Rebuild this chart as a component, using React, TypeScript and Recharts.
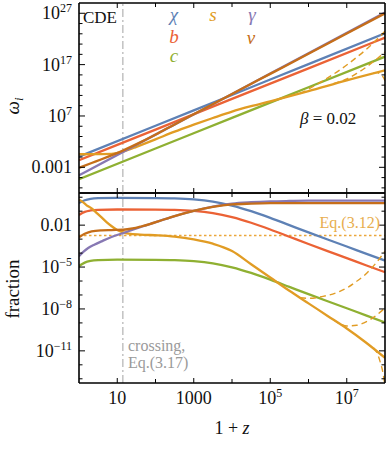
import React from 'react';
import { LineChart, Line, XAxis, YAxis, ReferenceLine } from 'recharts';

const SERIF = '"Liberation Serif", "DejaVu Serif", "Times New Roman", serif';

// Mathematica default palette
const COL_CHI = '#5E81B5';
const COL_S = '#E19C24';
const COL_C = '#8FB032';
const COL_B = '#EB6235';
const COL_G = '#8778B3';
const COL_NU = '#C56E1A';

// ---------- axes ----------
const X_DOMAIN: [number, number] = [1, 1e8];
const X_TICK_EXP = [1, 2, 3, 4, 5, 6, 7];
const X_LABEL_EXP = [1, 3, 5, 7];
const TOP_Y_DOMAIN: [number, number] = [1e-8, 1e29];
const TOP_Y_TICK_EXP = [-7, -5, -3, -1, 1, 3, 5, 7, 9, 11, 13, 15, 17, 19, 21, 23, 25, 27];
const TOP_Y_LABEL_EXP = [-3, 7, 17, 27];
const BOT_Y_DOMAIN: [number, number] = [5e-14, 2];
const BOT_Y_TICK_EXP = [0, -1, -2, -3, -4, -5, -6, -7, -8, -9, -10, -11, -12, -13];
const BOT_Y_LABEL_EXP = [-2, -5, -8, -11];
const CROSSING_1PZ = 14;
const EQ312_FRACTION = 1.8e-3;

// ---------- top panel: log10(omega) vs log10(1+z) ----------
const TOP_LX_STRAIGHT = [0, 2, 4, 6, 8];
const TOP_CHI = [-0.92, 5.09, 11.09, 17.1, 23.1];
const TOP_B = [-1.62, 4.35, 10.32, 16.28, 22.25];
const TOP_C = [-5.3, 0.66, 6.63, 12.59, 18.55];
const TOP_GAMMA = [-4.55, 3.37, 11.3, 19.22, 27.15];
const TOP_LX_S = [0, 0.5, 0.85, 1.07, 1.3, 1.5, 2, 2.5, 3, 3.5, 4, 4.5, 5, 6, 7, 8];
const TOP_S = [-0.45, -0.42, -0.37, -0.1, 0.42, 0.99, 2.45, 3.95, 5.3, 6.6, 7.85, 8.9, 9.85, 11.85, 13.95, 15.9];
const TOP_LX_NU = [0, 0.33, 0.59, 1.16, 1.64, 2.07, 2.5, 3.16, 4, 5, 6, 7, 8];
const TOP_NU = [-3.1, -2.15, -1.42, 0.31, 2.0, 3.64, 5.35, 7.98, 11.3, 15.2, 19.1, 23.05, 26.98];
const LX_D1 = [5.78, 6.0, 6.38, 6.82, 7.05, 7.26, 7.5, 7.69, 7.85, 8.0];
const TOP_D1 = [11.36, 12.22, 13.87, 15.97, 17.2, 18.43, 19.9, 21.21, 22.37, 23.5];
const LX_D2 = [6.65, 6.85, 7.0, 7.26, 7.45, 7.61, 7.8, 8.0];
const TOP_D2 = [13.28, 13.75, 14.2, 15.28, 16.2, 17.07, 18.2, 19.44];
const LX_D3 = [7.7, 7.8, 7.87, 7.93, 7.97, 8.0];
const TOP_D3 = [15.43, 15.45, 15.18, 14.8, 14.35, 13.87];

// ---------- bottom panel: log10(fraction) vs log10(1+z) ----------
const BOT_LX_M = [0, 0.15, 0.3, 0.5, 1, 2, 2.5, 3, 3.5, 4, 4.5, 5, 5.5, 6, 6.5, 7, 7.5, 8];
const BOT_CHI = [-0.41, -0.22, -0.12, -0.07, -0.05, -0.06, -0.08, -0.15, -0.31, -0.6, -1.0, -1.48, -2.0, -2.52, -3.03, -3.53, -4.04, -4.54];
const BOT_B = [-1.27, -1.05, -0.95, -0.9, -0.88, -0.89, -0.91, -0.98, -1.14, -1.43, -1.83, -2.31, -2.83, -3.35, -3.86, -4.36, -4.87, -5.37];
const BOT_C = [-4.92, -4.68, -4.56, -4.5, -4.47, -4.48, -4.5, -4.57, -4.73, -5.02, -5.42, -5.9, -6.42, -6.94, -7.45, -7.95, -8.46, -8.96];
const BOT_LX_G = [0, 0.12, 0.24, 0.4, 0.59, 0.85, 1.16, 1.6, 2.07, 2.5, 3, 3.5, 4, 4.5, 5, 5.5, 6, 7, 8];
const BOT_GAMMA = [-4.23, -3.9, -3.64, -3.4, -3.16, -2.85, -2.56, -2.15, -1.73, -1.35, -0.98, -0.68, -0.46, -0.36, -0.3, -0.27, -0.25, -0.25, -0.25];
const BOT_LX_NU = [0, 0.15, 0.33, 0.59, 0.85, 1.16, 1.4, 1.64, 1.85, 2.07, 2.5, 3, 3.5, 4, 4.5, 5, 6, 7, 8];
const BOT_NU = [-2.87, -2.62, -2.44, -2.37, -2.35, -2.33, -2.24, -2.08, -1.92, -1.73, -1.35, -0.98, -0.7, -0.52, -0.46, -0.43, -0.42, -0.42, -0.42];
const BOT_LX_S = [0, 0.1, 0.2, 0.33, 0.45, 0.59, 0.72, 0.855, 1.0, 1.15, 1.3, 1.6, 2.07, 2.5, 3, 3.5, 4, 4.5, 5, 5.5, 6, 6.5, 7, 7.5, 8];
const BOT_S = [-0.18, -0.35, -0.58, -0.8, -1.1, -1.45, -1.78, -2.08, -2.35, -2.52, -2.61, -2.68, -2.73, -2.82, -3.02, -3.33, -3.85, -4.8, -5.75, -6.7, -7.6, -8.5, -9.4, -10.4, -11.5];
const BOT_D1 = [-7.2, -7.24, -7.1, -6.74, -6.42, -6.02, -5.5, -4.95, -4.42, -3.87];
const BOT_D2 = [-8.77, -9.1, -9.22, -9.17, -9.0, -8.77, -8.4, -7.93];
const BOT_D3 = [-10.8, -11.2, -11.75, -12.35, -12.95, -13.5];

const pts = (lx: number[], ly: number[]) => lx.map((a, i) => ({ x: Math.pow(10, a), y: Math.pow(10, ly[i]) }));

const expToVals = (es: number[]) => es.map((e) => Math.pow(10, e));
const nearExp = (v: number) => Math.round(Math.log10(v));

const supText = (e: number) => (e < 0 ? '\u2212' + String(-e) : String(e));

function labelNode(e: number) {
  if (e === -3) return <>0.001</>;
  if (e === -2) return <>0.01</>;
  if (e === 1) return <>10</>;
  if (e === 3) return <>1000</>;
  return (
    <>
      10<tspan dy={-7} fontSize={12}>{supText(e)}</tspan>
    </>
  );
}

const makeYTick = (side: 'left' | 'right', labelled: number[]) => (props: any) => {
  const { x, y, payload } = props;
  const e = nearExp(payload.value);
  const isLab = labelled.includes(e);
  const len = isLab ? 6 : 3.5;
  const dir = side === 'left' ? 1 : -1;
  return (
    <g>
      <line x1={x} y1={y} x2={x + dir * len} y2={y} stroke="#000" strokeWidth={1} />
      {side === 'left' && isLab ? (
        <text x={x - 7} y={y + 6} textAnchor="end" fontSize={18} fontFamily={SERIF} fill="#111">
          {labelNode(e)}
        </text>
      ) : null}
    </g>
  );
};

const makeXTick = (side: 'top' | 'bottom', withLabels: boolean) => (props: any) => {
  const { x, y, payload } = props;
  const e = nearExp(payload.value);
  const isLab = X_LABEL_EXP.includes(e);
  const len = isLab ? 5 : 4;
  const dir = side === 'bottom' ? -1 : 1;
  return (
    <g>
      <line x1={x} y1={y} x2={x} y2={y + dir * len} stroke="#000" strokeWidth={1} />
      {withLabels && isLab ? (
        <text x={x} y={y + 21} textAnchor="middle" fontSize={18} fontFamily={SERIF} fill="#111">
          {labelNode(e)}
        </text>
      ) : null}
    </g>
  );
};

const FRAME = { stroke: '#000', strokeWidth: 1.6 };
const SOLID = 2.3;
const DASH = 1.4;

function seriesLines(data: {
  chi: any[]; b: any[]; c: any[]; s: any[]; g: any[]; nu: any[]; d1: any[]; d2: any[]; d3: any[];
}) {
  const common = { type: 'monotone' as const, dataKey: 'y', dot: false, activeDot: false, isAnimationActive: false };
  return [
    <Line key="chi" data={data.chi} stroke={COL_CHI} strokeWidth={SOLID} {...common} />,
    <Line key="b" data={data.b} stroke={COL_B} strokeWidth={SOLID} {...common} />,
    <Line key="c" data={data.c} stroke={COL_C} strokeWidth={SOLID} {...common} />,
    <Line key="d1" data={data.d1} stroke={COL_S} strokeWidth={DASH} strokeDasharray="6 4" {...common} />,
    <Line key="d2" data={data.d2} stroke={COL_S} strokeWidth={DASH} strokeDasharray="6 4" {...common} />,
    <Line key="d3" data={data.d3} stroke={COL_S} strokeWidth={DASH} strokeDasharray="6 4" {...common} />,
    <Line key="s" data={data.s} stroke={COL_S} strokeWidth={SOLID} {...common} />,
    <Line key="g" data={data.g} stroke={COL_G} strokeWidth={SOLID} {...common} />,
    <Line key="nu" data={data.nu} stroke={COL_NU} strokeWidth={SOLID} {...common} />,
  ];
}

const topData = {
  chi: pts(TOP_LX_STRAIGHT, TOP_CHI),
  b: pts(TOP_LX_STRAIGHT, TOP_B),
  c: pts(TOP_LX_STRAIGHT, TOP_C),
  g: pts(TOP_LX_STRAIGHT, TOP_GAMMA),
  s: pts(TOP_LX_S, TOP_S),
  nu: pts(TOP_LX_NU, TOP_NU),
  d1: pts(LX_D1, TOP_D1),
  d2: pts(LX_D2, TOP_D2),
  d3: pts(LX_D3, TOP_D3),
};

const botData = {
  chi: pts(BOT_LX_M, BOT_CHI),
  b: pts(BOT_LX_M, BOT_B),
  c: pts(BOT_LX_M, BOT_C),
  g: pts(BOT_LX_G, BOT_GAMMA),
  s: pts(BOT_LX_S, BOT_S),
  nu: pts(BOT_LX_NU, BOT_NU),
  d1: pts(LX_D1, BOT_D1),
  d2: pts(LX_D2, BOT_D2),
  d3: pts(LX_D3, BOT_D3),
};

const xTicks = expToVals(X_TICK_EXP);

function axes(yDomain: [number, number], yTicks: number[], yLabels: number[], topH: number, botH: number, xLabels: boolean) {
  return [
    <XAxis key="xb" dataKey="x" type="number" scale="log" domain={X_DOMAIN} allowDataOverflow ticks={xTicks} interval={0}
      orientation="bottom" height={botH} tickLine={false} tickSize={0} tickMargin={0} axisLine={FRAME}
      tick={makeXTick('bottom', xLabels)} />,
    <XAxis key="xt" xAxisId="t" dataKey="x" type="number" scale="log" domain={X_DOMAIN} allowDataOverflow ticks={xTicks} interval={0}
      orientation="top" height={topH} tickLine={false} tickSize={0} tickMargin={0} axisLine={FRAME}
      tick={makeXTick('top', false)} />,
    <YAxis key="yl" type="number" scale="log" domain={yDomain} allowDataOverflow ticks={yTicks} interval={0}
      orientation="left" width={79} tickLine={false} tickSize={0} tickMargin={0} axisLine={FRAME}
      tick={makeYTick('left', yLabels)} />,
    <YAxis key="yr" yAxisId="r" type="number" scale="log" domain={yDomain} allowDataOverflow ticks={yTicks} interval={0}
      orientation="right" width={4} tickLine={false} tickSize={0} tickMargin={0} axisLine={FRAME}
      tick={makeYTick('right', yLabels)} />,
  ];
}

export default function App() {
  return (
    <div style={{ position: 'absolute', left: 0, top: 0, width: 389, height: 450, background: '#fff' }}>
      <div style={{ position: 'absolute', left: 0, top: 0 }}>
        <LineChart width={389} height={450} margin={{ top: 0, right: 0, bottom: 0, left: 0 }}>
          {axes(BOT_Y_DOMAIN, expToVals(BOT_Y_TICK_EXP), BOT_Y_LABEL_EXP, 193, 67, true)}
          <ReferenceLine y={EQ312_FRACTION} stroke="#EBA63A" strokeOpacity={1} strokeWidth={1.4} strokeDasharray="2.5 2.5" />
          <ReferenceLine x={CROSSING_1PZ} stroke="#b8b8b8" strokeWidth={1.3} strokeDasharray="8 3 2 3" />
          {seriesLines(botData)}
        </LineChart>
      </div>
      <div style={{ position: 'absolute', left: 0, top: 0 }}>
        <LineChart width={389} height={196} margin={{ top: 0, right: 0, bottom: 0, left: 0 }}>
          {axes(TOP_Y_DOMAIN, expToVals(TOP_Y_TICK_EXP), TOP_Y_LABEL_EXP, 3, 3, false)}
          <ReferenceLine x={CROSSING_1PZ} stroke="#b8b8b8" strokeWidth={1.3} strokeDasharray="8 3 2 3" />
          {seriesLines(topData)}
        </LineChart>
      </div>
      <svg width={389} height={450} style={{ position: 'absolute', left: 0, top: 0, pointerEvents: 'none' }} fontFamily={SERIF}>
        <text x={83} y={23} fontSize={17} fill="#111">CDE</text>
        <g fontStyle="italic" fontSize={19}>
          <text x={174} y={21} textAnchor="middle" fill={COL_CHI}>χ</text>
          <text x={174} y={43} textAnchor="middle" fill={COL_B}>b</text>
          <text x={174} y={62} textAnchor="middle" fill={COL_C}>c</text>
          <text x={213} y={21} textAnchor="middle" fill={COL_S}>s</text>
          <text x={252} y={21} textAnchor="middle" fill={COL_G}>γ</text>
          <text x={251} y={44} textAnchor="middle" fill={COL_NU}>ν</text>
        </g>
        <text x={300} y={124} fontSize={17} fill="#111">
          <tspan fontStyle="italic">β</tspan> = 0.02
        </text>
        <text x={380} y={228} textAnchor="end" fontSize={16} fill="#E8AE4E">Eq.(3.12)</text>
        <text x={128} y={351} fontSize={16} fill="#9a9a9a">crossing,</text>
        <text x={128} y={368} fontSize={16} fill="#9a9a9a">Eq.(3.17)</text>
        <text transform="translate(19,289) rotate(-90)" textAnchor="middle" fontSize={19} fill="#111">fraction</text>
        <text transform="translate(19,106) rotate(-90)" textAnchor="middle" fontSize={19} fill="#111">
          <tspan fontStyle="italic">ω</tspan>
          <tspan fontStyle="italic" fontSize={13} dy={4}>i</tspan>
        </text>
        <text x={232} y={434} textAnchor="middle" fontSize={18} fill="#111">
          1 + <tspan fontStyle="italic">z</tspan>
        </text>
      </svg>
    </div>
  );
}
